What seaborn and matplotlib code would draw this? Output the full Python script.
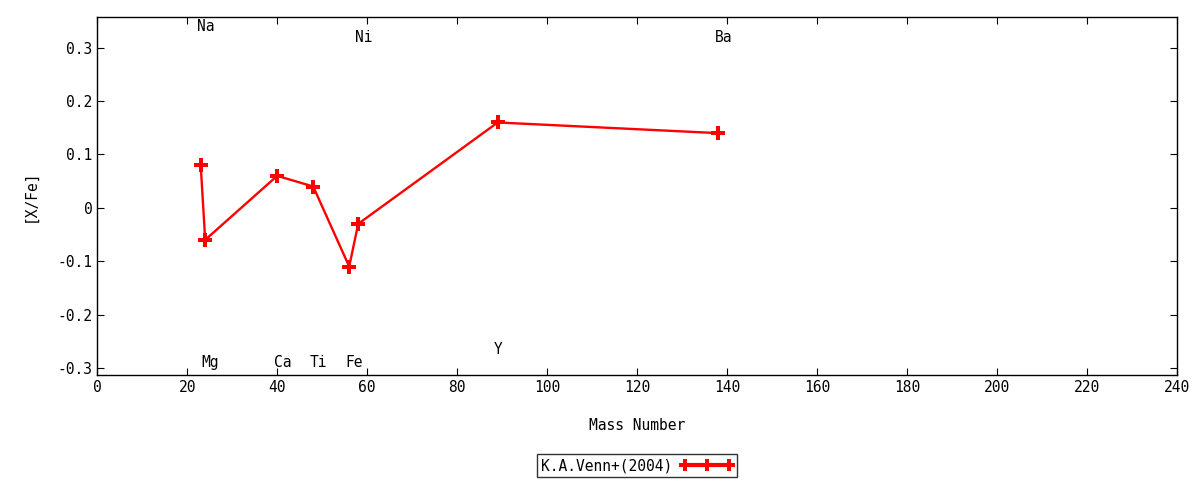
import matplotlib
matplotlib.use("Agg")
import matplotlib.pyplot as plt
import seaborn as sns
import pandas as pd

elements = ["Na", "Mg", "Ca", "Ti", "Fe", "Ni", "Y", "Ba"]
mass = [23, 24, 40, 48, 56, 58, 89, 138]
x_fe = [0.08, -0.06, 0.06, 0.04, -0.11, -0.03, 0.16, 0.14]
label_y = [0.34, -0.29, -0.29, -0.29, -0.29, 0.32, -0.265, 0.32]

sns.set_style("ticks")
plt.rcParams["font.family"] = ["DejaVu Sans Mono"]
for k in ["text.color", "axes.labelcolor", "xtick.color", "ytick.color"]:
    plt.rcParams[k] = "black"

df = pd.DataFrame({"mass": mass, "xfe": x_fe})

fig = plt.figure(figsize=(12, 4.8), dpi=100)
ax = fig.add_axes([0.081, 0.219, 0.9, 0.746])

sns.lineplot(data=df, x="mass", y="xfe", sort=False, color="red", lw=1.7,
             marker="P", markersize=10, markeredgewidth=0, ax=ax,
             label="K.A.Venn+(2004)")

for el, m, ly in zip(elements, mass, label_y):
    ax.text(m - 0.8, ly, el, ha="left", va="center", fontsize=10.5)

ax.set_xlim(0, 240)
ax.set_ylim(-0.313, 0.358)
ax.set_xticks(range(0, 241, 20))
ax.set_yticks([-0.3, -0.2, -0.1, 0, 0.1, 0.2, 0.3])
ax.set_yticklabels(["-0.3", "-0.2", "-0.1", "0", "0.1", "0.2", "0.3"])
ax.tick_params(direction="in", top=True, right=True, length=5, labelsize=10.5)
for s in ax.spines.values():
    s.set_linewidth(1)
    s.set_color("black")
ax.set_xlabel("Mass Number", fontsize=10.5, labelpad=17)
ax.set_ylabel("[X/Fe]", fontsize=10.5, labelpad=14)

leg = ax.legend(loc="upper center", bbox_to_anchor=(0.5, -0.222), frameon=True,
                fancybox=False, markerfirst=False, numpoints=3, handlelength=3.6,
                fontsize=10.5, borderpad=0.25, borderaxespad=0, handletextpad=0.6)
leg.get_frame().set_edgecolor("black")
leg.get_frame().set_linewidth(1)
for h in leg.legend_handles:
    h.set_linewidth(3)
    h.set_markersize(9)

fig.savefig("out.png", dpi=100)
